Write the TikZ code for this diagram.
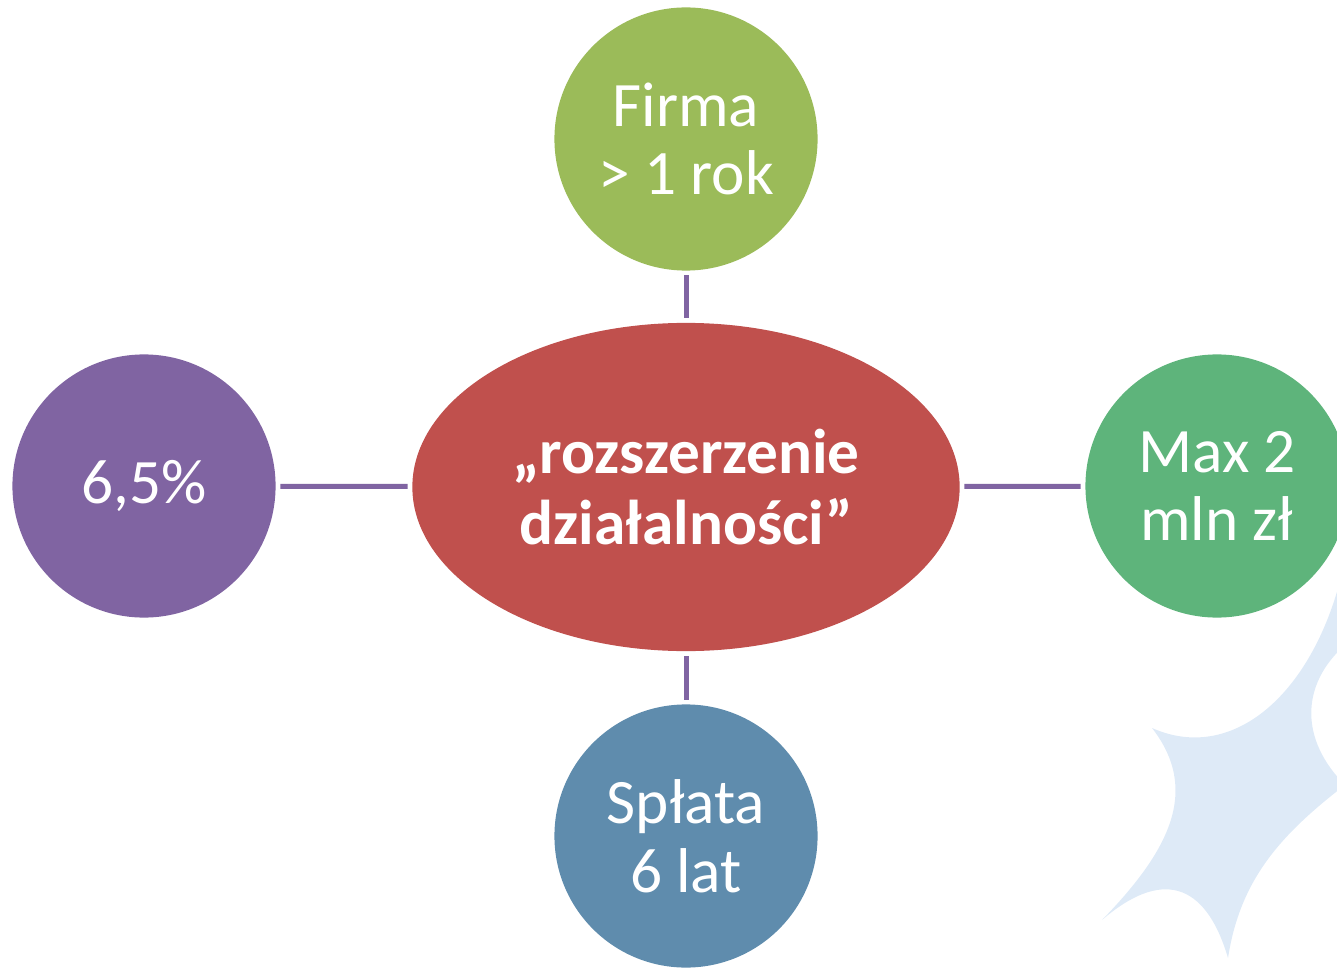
\documentclass[tikz,border=0pt]{standalone}
\usepackage{fontspec}
\setmainfont{Carlito}
\usetikzlibrary{shapes.geometric}
\definecolor{hubred}{HTML}{C0504D}
\definecolor{firmagreen}{HTML}{9BBB59}
\definecolor{kwotagreen}{HTML}{5EB47B}
\definecolor{splatablue}{HTML}{5F8CAD}
\definecolor{linkpurple}{HTML}{8064A2}
\definecolor{starblue}{HTML}{DEEAF7}
\begin{document}
\begin{tikzpicture}[x=0.01cm,y=-0.01cm,
  bubble/.style={circle,minimum size=2.63cm,inner sep=0pt,text=white,align=center,
    font=\fontsize{18}{19.5}\selectfont},
  hub/.style={ellipse,fill=hubred,minimum width=5.47cm,minimum height=3.28cm,inner sep=0pt,
    text=white,align=center,font=\bfseries\fontsize{18}{20}\selectfont},
  link/.style={draw=linkpurple,line width=0.05cm,shorten >=0.04cm,shorten <=0.04cm}]
  \useasboundingbox (0,0) rectangle (1337,967);
  \clip (0,0) rectangle (1337,967);
  % gwiazda w tle
  \fill[starblue] (1152,728) .. controls (1235,765) and (1318,690) .. (1345,560)
    -- (1345,645) .. controls (1300,685) and (1300,740) .. (1345,785)
    .. controls (1280,835) and (1240,880) .. (1228,958)
    .. controls (1205,880) and (1160,870) .. (1102,920)
    .. controls (1170,850) and (1200,790) .. cycle;
  % srodek
  \node[hub] (hub) at (686,487) {„rozszerzenie\\działalności”};
  % kola dookola
  \node[bubble,fill=firmagreen] (firma) at (686,139) {Firma\\> 1 rok};
  \node[bubble,fill=kwotagreen] (kwota) at (1217,486) {Max 2\\mln zł};
  \node[bubble,fill=splatablue] (splata) at (686,836) {Spłata\\6 lat};
  \node[bubble,fill=linkpurple] (procent) at (144,486) {6,5\%};
  \foreach \n in {firma,kwota,splata,procent} {
      \draw[link] (\n) -- (hub);
  }
\end{tikzpicture}
\end{document}
